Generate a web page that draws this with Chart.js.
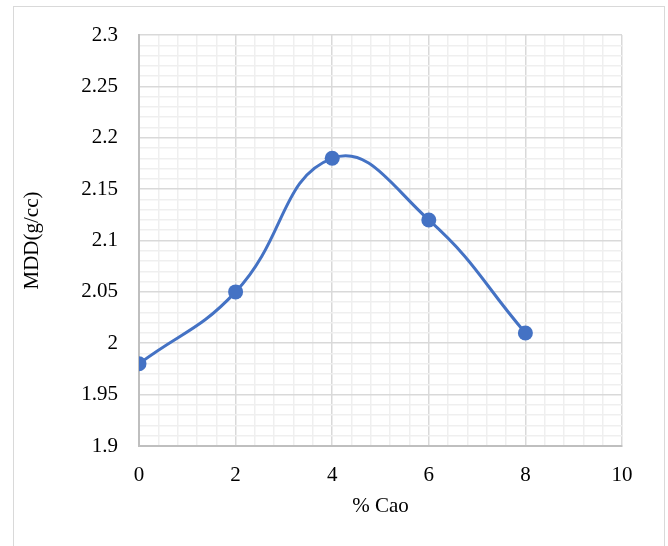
<!DOCTYPE html>
<html>
<head>
<meta charset="utf-8">
<script src="https://cdn.jsdelivr.net/npm/chart.js@4/dist/chart.umd.min.js"></script>
<style>
  body { margin: 0; background: #fff; overflow: hidden; }
  #frame { position: absolute; left: 13px; top: 6px; width: 650px; height: 600px; border: 1px solid #d9d9d9; }
  #wrap { position: absolute; left: 0; top: 0; width: 668px; height: 546px; }
</style>
</head>
<body>
<div id="frame"></div>
<div id="wrap"><canvas id="myChart" width="668" height="546"></canvas></div>
<script>
// data
var cao = [0, 2, 4, 6, 8];
var mdd = [1.98, 2.05, 2.18, 2.12, 2.01];

function isMajor(v, step) {
  var r = v / step;
  return Math.abs(r - Math.round(r)) < 1e-6;
}

window.onload = function() {
  init();
};

function init() {
  var ctx = document.getElementById('myChart').getContext('2d');
  var font = { family: '"Liberation Serif", "DejaVu Serif", serif', size: 21 };

  var points = cao.map(function(x, i) { return { x: x, y: mdd[i] }; });

  new Chart(ctx, {
    type: 'scatter',
    data: {
      datasets: [{
        data: points,
        showLine: true,
        borderColor: '#4472C4',
        backgroundColor: '#4472C4',
        borderWidth: 3,
        tension: 0.45,
        pointRadius: 7.5,
        pointHoverRadius: 7.5,
        pointBorderWidth: 0
      }]
    },
    options: {
      responsive: false,
      animation: false,
      layout: { padding: { left: 0, top: 35, right: 46, bottom: 0 } },
      plugins: { legend: { display: false }, tooltip: { enabled: false } },
      scales: {
        x: {
          type: 'linear',
          min: 0,
          max: 10,
          afterFit: function(scale) { scale.height = 100; },
          ticks: {
            stepSize: 0.4,
            autoSkip: false,
            maxRotation: 0,
            padding: 17,
            color: '#000',
            font: font,
            callback: function(v) { return isMajor(v, 2) ? String(Math.round(v)) : ''; }
          },
          grid: {
            drawTicks: false,
            color: function(c) { return isMajor(c.tick.value, 2) ? '#d9d9d9' : '#efefef'; },
            lineWidth: 1.5
          },
          border: { color: '#bfbfbf', width: 2 },
          title: { display: true, text: '% Cao', color: '#000', font: font, padding: { top: 0, bottom: 27 } }
        },
        y: {
          min: 1.9,
          max: 2.3,
          afterFit: function(scale) { scale.width = 139; },
          ticks: {
            stepSize: 0.01,
            autoSkip: false,
            padding: 21,
            color: '#000',
            font: font,
            callback: function(v) {
              return isMajor(v, 0.05) ? String(Math.round(v * 100) / 100) : '';
            }
          },
          grid: {
            drawTicks: false,
            color: function(c) { return isMajor(c.tick.value, 0.05) ? '#d9d9d9' : '#efefef'; },
            lineWidth: 1.5
          },
          border: { color: '#bfbfbf', width: 2 },
          title: { display: true, text: 'MDD(g/cc)', color: '#000', font: font, padding: { top: 20, bottom: 0 } }
        }
      }
    }
  });
}
</script>
</body>
</html>
